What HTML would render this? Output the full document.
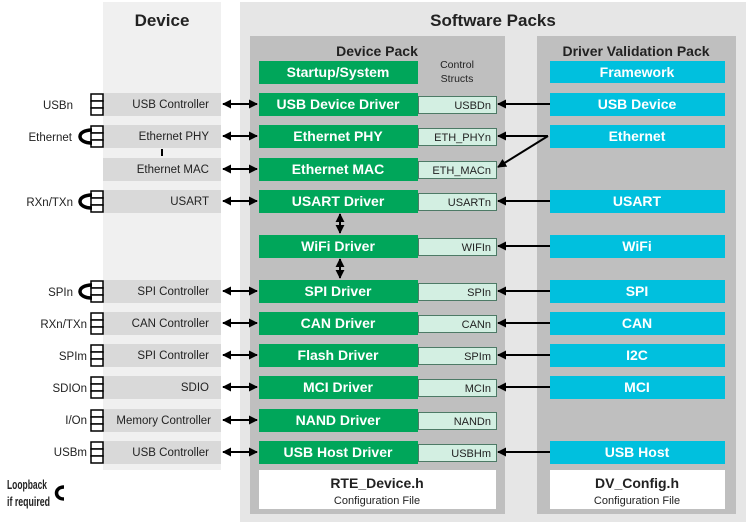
<!DOCTYPE html>
<html><head><meta charset="utf-8"><style>
html,body{margin:0;padding:0;background:#fff;}
svg{display:block;font-family:"Liberation Sans",Arial,sans-serif;}
.g{fill:#00a65a;}
.gt{fill:#fff;font-weight:bold;font-size:14px;text-anchor:middle;}
.s{fill:#d3efe2;stroke:#4d7a66;stroke-width:1;}
.st{fill:#222;font-size:11px;text-anchor:end;}
.c{fill:#00c0de;}
.d{fill:#d9d9d9;}
.dt{fill:#222;font-size:11.5px;text-anchor:end;}
.lt{fill:#222;font-size:11.5px;text-anchor:end;}
.ln{stroke:#000;stroke-width:2;fill:none;}
.cn{fill:#fff;stroke:#000;stroke-width:1.5;}
.lp{fill:none;stroke:#000;stroke-width:3.5;}
</style></head><body>
<svg width="746" height="522" viewBox="0 0 746 522" xmlns="http://www.w3.org/2000/svg">
<defs>
<marker id="a" viewBox="0 0 10 10" refX="9" refY="5" markerWidth="4.5" markerHeight="4.5" orient="auto-start-reverse"><path d="M0,0L10,5L0,10z" fill="#000"/></marker>
</defs>
<rect x="103" y="2" width="118" height="468" fill="#f0f0f0"/>
<text x="162" y="26" font-size="17" font-weight="bold" text-anchor="middle" fill="#222">Device</text>
<rect x="240" y="2" width="506" height="520" fill="#e6e6e6"/>
<text x="493" y="26" font-size="17" font-weight="bold" text-anchor="middle" fill="#222">Software Packs</text>
<rect x="250" y="36" width="255" height="478" fill="#bfbfbf"/>
<rect x="537" y="36" width="199" height="478" fill="#bfbfbf"/>
<text x="377" y="56" font-size="14" font-weight="bold" text-anchor="middle" fill="#222">Device Pack</text>
<text x="636" y="56" font-size="14" font-weight="bold" text-anchor="middle" fill="#222">Driver Validation Pack</text>
<text x="457" y="68" font-size="10.5" text-anchor="middle" fill="#222">Control</text>
<text x="457" y="82" font-size="10.5" text-anchor="middle" fill="#222">Structs</text>

<rect class="g" x="259" y="61" width="159" height="23"/><text class="gt" x="338" y="77">Startup/System</text>
<rect class="c" x="550" y="61" width="175" height="22"/><text class="gt" x="637" y="77">Framework</text>

<rect class="g" x="259" y="93" width="159" height="23"/><text class="gt" x="338" y="109">USB Device Driver</text>
<rect class="s" x="418.5" y="96.5" width="78" height="17"/><text class="st" x="491" y="109">USBDn</text>
<rect class="g" x="259" y="125" width="159" height="23"/><text class="gt" x="338" y="141">Ethernet PHY</text>
<rect class="s" x="418.5" y="128.5" width="78" height="17"/><text class="st" x="491" y="141">ETH_PHYn</text>
<rect class="g" x="259" y="158" width="159" height="23"/><text class="gt" x="338" y="174">Ethernet MAC</text>
<rect class="s" x="418.5" y="161.5" width="78" height="17"/><text class="st" x="491" y="174">ETH_MACn</text>
<rect class="g" x="259" y="190" width="159" height="23"/><text class="gt" x="338" y="206">USART Driver</text>
<rect class="s" x="418.5" y="193.5" width="78" height="17"/><text class="st" x="491" y="206">USARTn</text>
<rect class="g" x="259" y="235" width="159" height="23"/><text class="gt" x="338" y="251">WiFi Driver</text>
<rect class="s" x="418.5" y="238.5" width="78" height="17"/><text class="st" x="491" y="251">WIFIn</text>
<rect class="g" x="259" y="280" width="159" height="23"/><text class="gt" x="338" y="296">SPI Driver</text>
<rect class="s" x="418.5" y="283.5" width="78" height="17"/><text class="st" x="491" y="296">SPIn</text>
<rect class="g" x="259" y="312" width="159" height="23"/><text class="gt" x="338" y="328">CAN Driver</text>
<rect class="s" x="418.5" y="315.5" width="78" height="17"/><text class="st" x="491" y="328">CANn</text>
<rect class="g" x="259" y="344" width="159" height="23"/><text class="gt" x="338" y="360">Flash Driver</text>
<rect class="s" x="418.5" y="347.5" width="78" height="17"/><text class="st" x="491" y="360">SPIm</text>
<rect class="g" x="259" y="376" width="159" height="23"/><text class="gt" x="338" y="392">MCI Driver</text>
<rect class="s" x="418.5" y="379.5" width="78" height="17"/><text class="st" x="491" y="392">MCIn</text>
<rect class="g" x="259" y="409" width="159" height="23"/><text class="gt" x="338" y="425">NAND Driver</text>
<rect class="s" x="418.5" y="412.5" width="78" height="17"/><text class="st" x="491" y="425">NANDn</text>
<rect class="g" x="259" y="441" width="159" height="23"/><text class="gt" x="338" y="457">USB Host Driver</text>
<rect class="s" x="418.5" y="444.5" width="78" height="17"/><text class="st" x="491" y="457">USBHm</text>

<rect class="c" x="550" y="93" width="175" height="23"/><text class="gt" x="637" y="109">USB Device</text>
<rect class="c" x="550" y="125" width="175" height="23"/><text class="gt" x="637" y="141">Ethernet</text>
<rect class="c" x="550" y="190" width="175" height="23"/><text class="gt" x="637" y="206">USART</text>
<rect class="c" x="550" y="235" width="175" height="23"/><text class="gt" x="637" y="251">WiFi</text>
<rect class="c" x="550" y="280" width="175" height="23"/><text class="gt" x="637" y="296">SPI</text>
<rect class="c" x="550" y="312" width="175" height="23"/><text class="gt" x="637" y="328">CAN</text>
<rect class="c" x="550" y="344" width="175" height="23"/><text class="gt" x="637" y="360">I2C</text>
<rect class="c" x="550" y="376" width="175" height="23"/><text class="gt" x="637" y="392">MCI</text>
<rect class="c" x="550" y="441" width="175" height="23"/><text class="gt" x="637" y="457">USB Host</text>

<rect x="259" y="470" width="237" height="39" fill="#fff"/>
<text x="377" y="488" font-size="14" font-weight="bold" text-anchor="middle" fill="#222">RTE_Device.h</text>
<text x="377" y="504" font-size="11" text-anchor="middle" fill="#222">Configuration File</text>
<rect x="550" y="470" width="175" height="39" fill="#fff"/>
<text x="637" y="488" font-size="14" font-weight="bold" text-anchor="middle" fill="#222">DV_Config.h</text>
<text x="637" y="504" font-size="11" text-anchor="middle" fill="#222">Configuration File</text>

<g class="ln" marker-end="url(#a)">
<line x1="550" y1="104" x2="498" y2="104"/>
<line x1="548" y1="136" x2="498" y2="136"/>
<line x1="548" y1="136" x2="498" y2="167"/>
<line x1="550" y1="201" x2="498" y2="201"/>
<line x1="550" y1="246" x2="498" y2="246"/>
<line x1="550" y1="291" x2="498" y2="291"/>
<line x1="550" y1="323" x2="498" y2="323"/>
<line x1="550" y1="355" x2="498" y2="355"/>
<line x1="550" y1="387" x2="498" y2="387"/>
<line x1="550" y1="452" x2="498" y2="452"/>
</g>
<g class="ln" marker-start="url(#a)" marker-end="url(#a)">
<line x1="223" y1="104" x2="257" y2="104"/>
<line x1="223" y1="136" x2="257" y2="136"/>
<line x1="223" y1="169" x2="257" y2="169"/>
<line x1="223" y1="201" x2="257" y2="201"/>
<line x1="223" y1="291" x2="257" y2="291"/>
<line x1="223" y1="323" x2="257" y2="323"/>
<line x1="223" y1="355" x2="257" y2="355"/>
<line x1="223" y1="387" x2="257" y2="387"/>
<line x1="223" y1="420" x2="257" y2="420"/>
<line x1="223" y1="452" x2="257" y2="452"/>
<line x1="340" y1="214" x2="340" y2="233"/>
<line x1="340" y1="259" x2="340" y2="278"/>
</g>

<rect class="d" x="103" y="93" width="118" height="23"/><text class="dt" x="209" y="108">USB  Controller</text>
<rect class="d" x="103" y="125" width="118" height="23"/><text class="dt" x="209" y="140">Ethernet  PHY</text>
<rect x="161" y="149" width="2" height="7" fill="#000"/>
<rect class="d" x="103" y="158" width="118" height="23"/><text class="dt" x="209" y="173">Ethernet  MAC</text>
<rect class="d" x="103" y="190" width="118" height="23"/><text class="dt" x="209" y="205">USART</text>
<rect class="d" x="103" y="280" width="118" height="23"/><text class="dt" x="209" y="295">SPI Controller</text>
<rect class="d" x="103" y="312" width="118" height="23"/><text class="dt" x="209" y="327">CAN Controller</text>
<rect class="d" x="103" y="344" width="118" height="23"/><text class="dt" x="209" y="359">SPI Controller</text>
<rect class="d" x="103" y="376" width="118" height="23"/><text class="dt" x="209" y="391">SDIO</text>
<rect class="d" x="103" y="409" width="118" height="23"/><text class="dt" x="211" y="424">Memory Controller</text>
<rect class="d" x="103" y="441" width="118" height="23"/><text class="dt" x="209" y="456">USB  Controller</text>

<g class="cn">
<rect x="91" y="94" width="12" height="7"/><rect x="91" y="101" width="12" height="7"/><rect x="91" y="108" width="12" height="7"/>
<rect x="91" y="126" width="12" height="7"/><rect x="91" y="133" width="12" height="7"/><rect x="91" y="140" width="12" height="7"/>
<rect x="91" y="191" width="12" height="7"/><rect x="91" y="198" width="12" height="7"/><rect x="91" y="205" width="12" height="7"/>
<rect x="91" y="281" width="12" height="7"/><rect x="91" y="288" width="12" height="7"/><rect x="91" y="295" width="12" height="7"/>
<rect x="91" y="313" width="12" height="7"/><rect x="91" y="320" width="12" height="7"/><rect x="91" y="327" width="12" height="7"/>
<rect x="91" y="345" width="12" height="7"/><rect x="91" y="352" width="12" height="7"/><rect x="91" y="359" width="12" height="7"/>
<rect x="91" y="377" width="12" height="7"/><rect x="91" y="384" width="12" height="7"/><rect x="91" y="391" width="12" height="7"/>
<rect x="91" y="410" width="12" height="7"/><rect x="91" y="417" width="12" height="7"/><rect x="91" y="424" width="12" height="7"/>
<rect x="91" y="442" width="12" height="7"/><rect x="91" y="449" width="12" height="7"/><rect x="91" y="456" width="12" height="7"/>
</g>
<g class="lp">
<path d="M92,130 C76,130 76,143 92,143"/>
<path d="M92,195 C76,195 76,208 92,208"/>
<path d="M92,285 C76,285 76,298 92,298"/>
<path d="M64,487 C54,487 54,499 64,499"/>
</g>
<text class="lt" x="73" y="109">USBn</text>
<text class="lt" x="72" y="141">Ethernet</text>
<text class="lt" x="73" y="206">RXn/TXn</text>
<text class="lt" x="73" y="296">SPIn</text>
<text class="lt" x="87" y="328">RXn/TXn</text>
<text class="lt" x="87" y="360">SPIm</text>
<text class="lt" x="87" y="392">SDIOn</text>
<text class="lt" x="87" y="424">I/On</text>
<text class="lt" x="87" y="456">USBm</text>
<text x="7" y="489" font-size="12.5" font-weight="bold" fill="#222" textLength="40" lengthAdjust="spacingAndGlyphs">Loopback</text>
<text x="7" y="506" font-size="12.5" font-weight="bold" fill="#222" textLength="43" lengthAdjust="spacingAndGlyphs">if required</text>
</svg>
</body></html>
